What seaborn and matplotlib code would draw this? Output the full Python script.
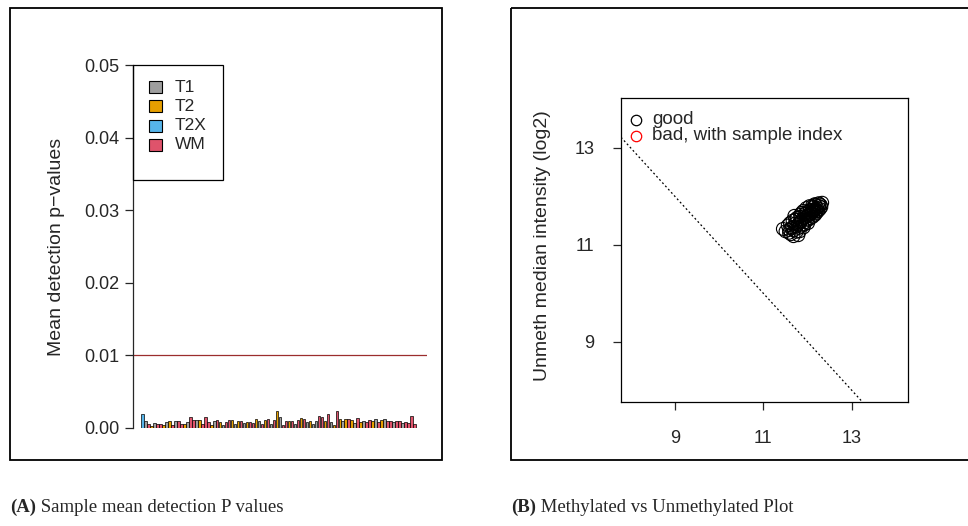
import matplotlib
matplotlib.use("Agg")
import matplotlib.pyplot as plt
import seaborn as sns
import pandas as pd
from matplotlib.patches import Rectangle
from matplotlib.lines import Line2D

# ---------------- data ----------------
sample_groups = ["T2X", "T1", "WM", "T2", "T1", "WM", "WM", "T2", "T1", "T2",
                 "WM", "T1", "WM", "WM", "T2", "T1", "WM", "WM", "T1", "T2",
                 "WM", "WM", "WM", "T2", "T1", "WM", "T2", "T1", "WM", "WM",
                 "T2", "T1", "T2", "WM", "T1", "T2", "WM", "WM", "T2", "T1",
                 "WM", "T2", "WM", "T1", "WM", "T2", "T1", "WM", "WM", "T2",
                 "WM", "T1", "WM", "T2", "WM", "T1", "T2", "T1", "T1", "WM",
                 "WM", "T2", "WM", "T1", "T2", "WM", "T2", "T1", "T2", "WM",
                 "T2", "T1", "WM", "T2", "T1", "WM", "WM", "T2", "T1", "WM",
                 "T2", "T1", "WM", "WM", "T1", "WM", "WM", "T1", "WM", "WM",
                 "WM", "WM"]
mean_detp = [0.0019, 0.0009, 0.0005, 0.0003, 0.0007, 0.0006, 0.0005, 0.0004, 0.0008, 0.0009,
             0.0004, 0.0009, 0.0009, 0.0006, 0.0005, 0.0008, 0.0015, 0.0011, 0.0011, 0.0011,
             0.0006, 0.0015, 0.0008, 0.0004, 0.0010, 0.0011, 0.0008, 0.0004, 0.0008, 0.0011,
             0.0011, 0.0005, 0.0009, 0.0010, 0.0007, 0.0008, 0.0008, 0.0007, 0.0012, 0.0010,
             0.0006, 0.0011, 0.0013, 0.0005, 0.0011, 0.0023, 0.0015, 0.0004, 0.0009, 0.0010,
             0.0009, 0.0006, 0.0011, 0.0014, 0.0013, 0.0008, 0.0010, 0.0006, 0.0010, 0.0017,
             0.0015, 0.0009, 0.0019, 0.0008, 0.0004, 0.0024, 0.0013, 0.0010, 0.0012, 0.0013,
             0.0011, 0.0007, 0.0014, 0.0008, 0.0010, 0.0008, 0.0011, 0.0009, 0.0013, 0.0008,
             0.0011, 0.0012, 0.0009, 0.0010, 0.0008, 0.0009, 0.0009, 0.0007, 0.0008, 0.0007,
             0.0017, 0.0005]
group_levels = ["T1", "T2", "T2X", "WM"]
group_colors = ["#9E9E9E", "#E69F00", "#56B4E9", "#DF536B"]
yticks_a = [0.00, 0.01, 0.02, 0.03, 0.04, 0.05]
threshold = 0.01

meth_median = [11.44, 11.50, 11.55, 11.58, 11.62, 11.65, 11.60, 11.68, 11.72, 11.75,
               11.78, 11.70, 11.80, 11.83, 11.85, 11.88, 11.90, 11.92, 11.95, 11.97,
               12.00, 12.02, 12.05, 12.08, 12.10, 12.12, 12.15, 12.18, 12.20, 12.22,
               12.25, 12.28, 12.30, 12.33, 11.66, 11.74, 11.82, 11.86, 11.93, 11.98,
               12.03, 12.07, 12.13, 12.17, 12.24, 12.31, 11.76, 11.87, 11.96, 12.04,
               12.11, 12.19, 12.26, 11.58, 11.69, 11.79, 11.91, 12.01, 12.09, 12.16,
               12.21, 11.72, 11.84, 11.99, 12.06, 12.14, 12.27, 11.63, 11.81, 11.94]
unmeth_median = [11.33, 11.28, 11.40, 11.31, 11.22, 11.36, 11.45, 11.18, 11.52, 11.27,
                 11.42, 11.60, 11.35, 11.62, 11.48, 11.40, 11.70, 11.55, 11.47, 11.76,
                 11.60, 11.52, 11.72, 11.64, 11.80, 11.58, 11.70, 11.83, 11.66, 11.76,
                 11.86, 11.74, 11.82, 11.87, 11.50, 11.38, 11.28, 11.66, 11.42, 11.68,
                 11.63, 11.55, 11.78, 11.62, 11.70, 11.78, 11.56, 11.52, 11.58, 11.80,
                 11.68, 11.74, 11.80, 11.25, 11.30, 11.20, 11.36, 11.45, 11.72, 11.84,
                 11.70, 11.44, 11.58, 11.52, 11.66, 11.72, 11.84, 11.34, 11.46, 11.64]
ticks_b = [9, 11, 13]
cutoff_intercept = 21.0
legend_b_labels = ["good", "bad, with sample index"]
legend_b_colors = ["black", "red"]

# ---------------- figure ----------------
W, H = 968, 526
fig = plt.figure(figsize=(W / 100, H / 100), dpi=100)
sns.set_style("white")
plt.rcParams["font.family"] = ["Liberation Sans", "DejaVu Sans"]
SERIF = ["Liberation Serif", "DejaVu Serif"]

def fx(px):
    return px / W

def fy(py):
    return 1 - py / H

# overlay in pixel coordinates for frames and legends
ov = fig.add_axes([0, 0, 1, 1], zorder=5)
ov.set_xlim(0, W)
ov.set_ylim(H, 0)
ov.axis("off")
ov.patch.set_alpha(0)

ov.add_patch(Rectangle((10, 8), 432, 452, fill=False, edgecolor="black", linewidth=1.3))
ov.add_patch(Rectangle((511, 8), 470, 452, fill=False, edgecolor="black", linewidth=1.3,
                       clip_on=False))

# ---------------- panel A ----------------
axA = fig.add_axes([fx(133), fy(428), fx(427 - 133), (428 - 65) / H])
dfA = pd.DataFrame({"idx": list(range(len(mean_detp))), "val": mean_detp, "grp": sample_groups})
pal = dict(zip(group_levels, group_colors))
sns.barplot(data=dfA, x="idx", y="val", hue="grp", hue_order=group_levels, palette=pal,
            dodge=False, width=0.85, edgecolor="black", linewidth=0.5, errorbar=None,
            legend=False, ax=axA, saturation=1)
n = len(mean_detp)
axA.set_xlim(-0.5 - 8 / 2.99, n - 0.5 + 11 / 2.99)
axA.set_ylim(0, 0.05)
axA.axhline(threshold, color="#9B2D2D", linewidth=0.9)
for s in ["top", "right", "bottom"]:
    axA.spines[s].set_visible(False)
axA.spines["left"].set_linewidth(0.9)
axA.set_xticks([])
axA.set_xlabel("")
axA.set_yticks(yticks_a)
axA.set_yticklabels([f"{v:.2f}" for v in yticks_a], fontsize=13)
axA.tick_params(axis="y", length=6, width=0.9, left=True, pad=4)
axA.set_ylabel("Mean detection p\u2212values", fontsize=14)
axA.yaxis.set_label_coords((65 - 133) / 294, 0.5)

# legend A (frame + entries)
ov.add_patch(Rectangle((133, 65), 90, 115, fill=False, edgecolor="black", linewidth=0.9))
for i, (lab, col) in enumerate(zip(group_levels, group_colors)):
    yc = 87 + i * 19.3
    ov.add_patch(Rectangle((149, yc - 6), 13, 12, facecolor=col, edgecolor="black",
                           linewidth=0.8))
    ov.text(175, yc, lab, fontsize=12.5, va="center", ha="left")

# ---------------- panel B ----------------
axB = fig.add_axes([fx(621), fy(402), fx(908 - 621), (402 - 98) / H])
dfB = pd.DataFrame({"meth": meth_median, "unmeth": unmeth_median})
sns.scatterplot(data=dfB, x="meth", y="unmeth", ax=axB, s=85, facecolors="none",
                edgecolor="black", linewidth=0.8, marker="o")
axB.set_xlim(7.78, 14.27)
axB.set_ylim(7.76, 14.03)
axB.axline((0, cutoff_intercept), slope=-1, color="black", linewidth=0.9,
           linestyle=(0, (1.5, 2)))
for s in axB.spines.values():
    s.set_linewidth(0.9)
    s.set_color("black")
axB.set_xticks(ticks_b)
axB.set_yticks(ticks_b)
axB.set_xticklabels([str(t) for t in ticks_b], fontsize=13)
axB.set_yticklabels([str(t) for t in ticks_b], fontsize=13)
axB.tick_params(axis="x", length=6, width=0.9, bottom=True, pad=14)
axB.tick_params(axis="y", length=6, width=0.9, left=True, pad=13)
axB.set_xlabel("")
axB.set_ylabel("Unmeth median intensity (log2)", fontsize=14)
axB.yaxis.set_label_coords((551 - 621) / 287, 0.5 + 4 / 304)

# legend B
for i, (lab, col) in enumerate(zip(legend_b_labels, legend_b_colors)):
    yc = 120 + i * 15.5
    ov.add_line(Line2D([636], [yc], marker="o", markersize=7.5, markerfacecolor="none",
                       markeredgecolor=col, markeredgewidth=0.9, linestyle="none"))
    ov.text(652, yc, lab, fontsize=13.5, va="center", ha="left")

# ---------------- captions ----------------
for x0, tag, txt in [(10, "(A)", "Sample mean detection P values"),
                     (511, "(B)", "Methylated vs Unmethylated Plot")]:
    t1 = ov.text(x0, 512, tag, fontsize=13.5, fontweight="bold", family=SERIF,
                 va="baseline", ha="left")
    ov.annotate(" " + txt, xy=(1, 0), xycoords=t1, fontsize=13.5, family=SERIF,
                va="bottom", annotation_clip=False)

fig.savefig("out.png", dpi=100)
